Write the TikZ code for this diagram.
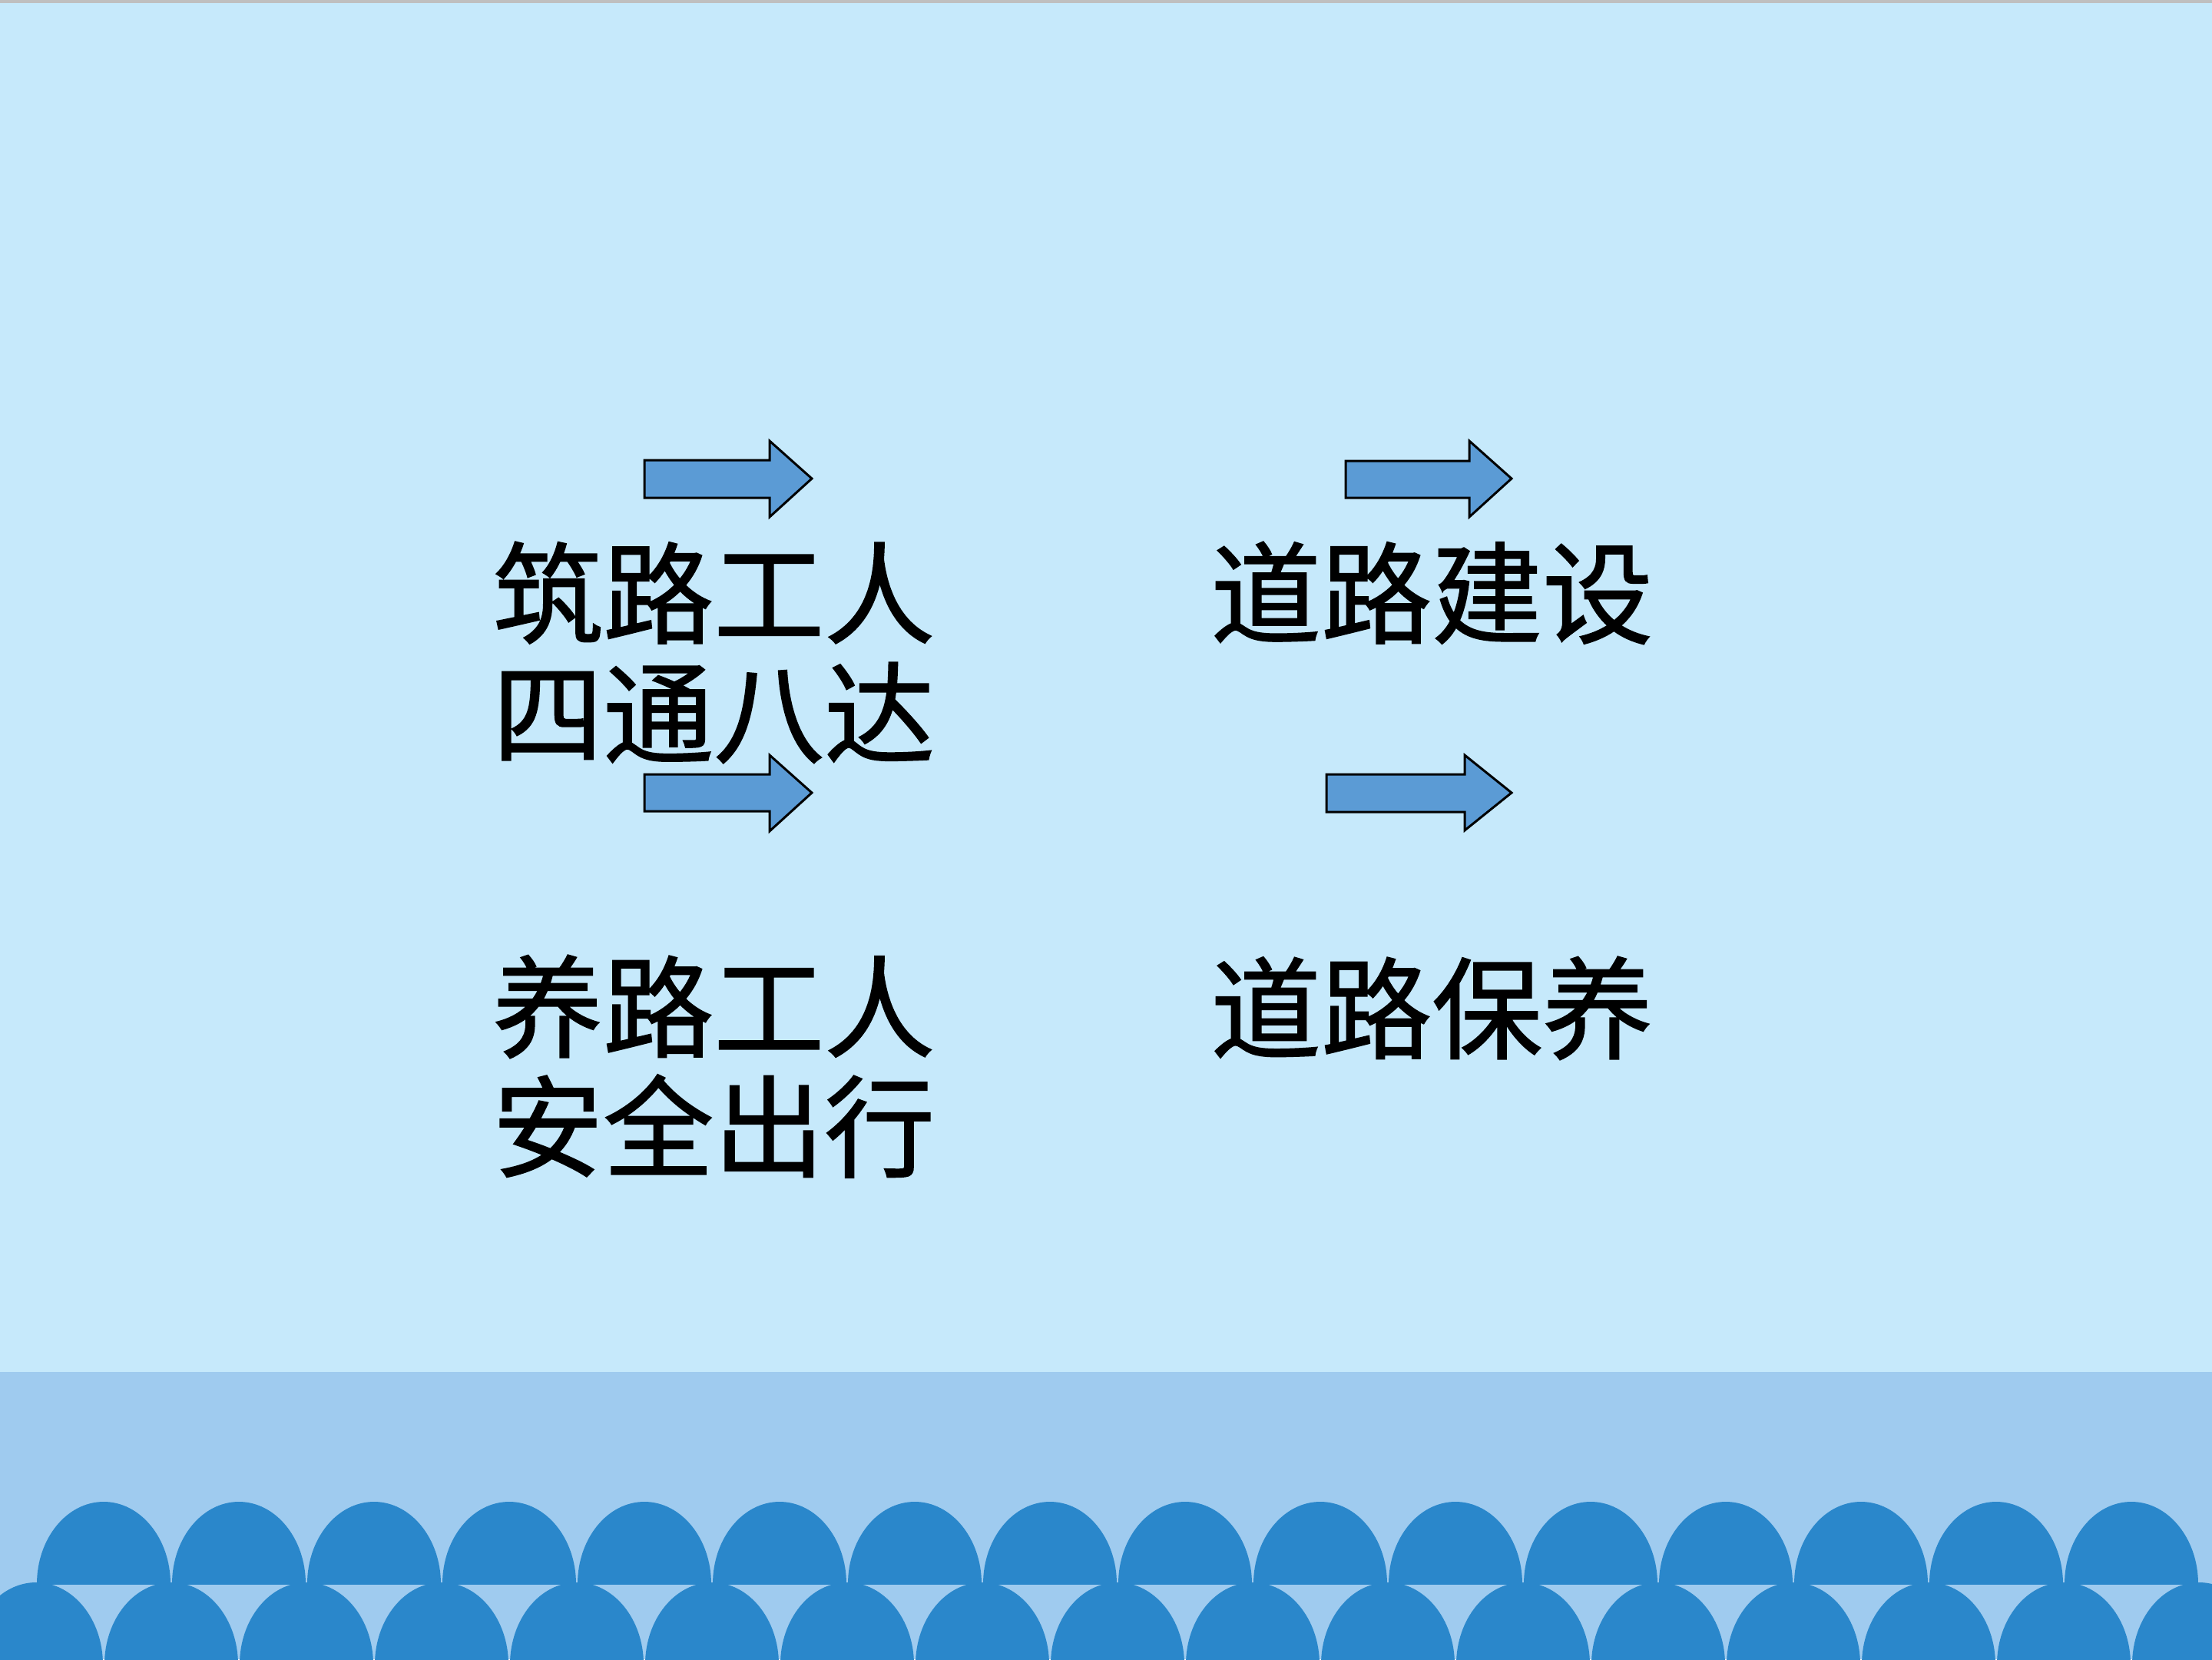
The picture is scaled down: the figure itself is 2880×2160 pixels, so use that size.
\documentclass[tikz,border=0pt]{standalone}
\usepackage{fontspec}
\newfontfamily\cjk[FakeBold=1.2]{Noto Sans CJK SC}
\definecolor{bgblue}{HTML}{C6E9FB}
\definecolor{bandblue}{HTML}{9FCBEF}
\definecolor{scallopblue}{HTML}{2A87CB}
\definecolor{arrowblue}{HTML}{5B9BD5}
\definecolor{topgray}{HTML}{BFBFBF}
\begin{document}
\begin{tikzpicture}[x=1pt,y=-1pt,
  blockarrow/.style={fill=arrowblue,draw=black,line width=3pt,line join=miter},
  cjktext/.style={font=\cjk\fontsize{144}{156}\selectfont,anchor=north west,inner sep=0pt,align=left,text=black},
  scallop/.style={fill=scallopblue}]
\useasboundingbox (0,0) rectangle (2880,2160);
\fill[bgblue] (0,0) rectangle (2880,2160);
\fill[topgray] (0,0) rectangle (2880,4);
\fill[bandblue] (0,1786) rectangle (2880,2160);
\begin{scope}
  \clip (0,1786) rectangle (2880,2062);
  \foreach \k in {0,...,15} { \fill[scallop] ({135+176*\k},2062) ellipse [x radius=87,y radius=107]; }
\end{scope}
\begin{scope}
  \clip (0,1786) rectangle (2880,2160);
  \foreach \k in {0,...,16} { \fill[scallop] ({47+176*\k},2167) ellipse [x radius=87,y radius=107]; }
\end{scope}
% arrows
\draw[blockarrow] (839,599) -- (1002,599) -- (1002,574) -- (1057,623) -- (1002,673) -- (1002,648) -- (839,648) -- cycle;
\draw[blockarrow] (1752,600) -- (1913,600) -- (1913,574) -- (1968,623) -- (1913,673) -- (1913,648) -- (1752,648) -- cycle;
\draw[blockarrow] (839,1008) -- (1002,1008) -- (1002,983) -- (1057,1032) -- (1002,1082) -- (1002,1056) -- (839,1056) -- cycle;
\draw[blockarrow] (1727,1008) -- (1907,1008) -- (1907,983) -- (1968,1032) -- (1907,1081) -- (1907,1057) -- (1727,1057) -- cycle;
% texts
\node[cjktext] (t1) at (641,705) {筑路工人\\四通八达};
\node[cjktext] (t2) at (1576,705) {道路建设};
\node[cjktext] (t3) at (641,1243) {养路工人\\安全出行};
\node[cjktext] (t4) at (1576,1245) {道路保养};
\end{tikzpicture}
\end{document}
